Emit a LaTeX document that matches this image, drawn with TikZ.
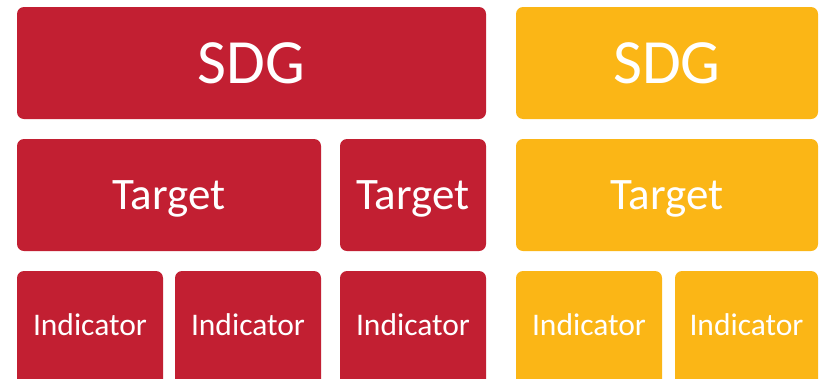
\documentclass[tikz,border=0pt]{standalone}
\usepackage{fontspec}
\setmainfont{Carlito}
\usetikzlibrary{positioning}
\definecolor{sdgRed}{HTML}{C21F32}
\definecolor{sdgGold}{HTML}{FBB616}

\begin{document}
\begin{tikzpicture}[x=1pt,y=1pt,node distance=20pt and 19pt]
      \tikzset{block/.style={rounded corners=7pt,inner sep=0pt,outer sep=0pt,text=white,anchor=north west,minimum height=112pt},
        redbox/.style={block,fill=sdgRed}, goldbox/.style={block,fill=sdgGold},
        goal/.style={font=\fontsize{63}{63}\selectfont}, tgt/.style={font=\fontsize{45}{45}\selectfont,text depth=0pt},
        ind/.style={font=\fontsize{31.5}{31.5}\selectfont,minimum width=146pt,minimum height=120pt,text depth=12pt}}
      \useasboundingbox (0,0) rectangle (821,-378);
      \node[redbox,goal,minimum width=469pt] (sdgA) at (17,-7) {SDG};
      \node[goldbox,goal,minimum width=302pt,right=30pt of sdgA.north east,anchor=north west] (sdgB) {SDG};
      \node[redbox,tgt,minimum width=304pt,below=of sdgA.south west,anchor=north west] (tgtA) {Target};
      \node[redbox,tgt,minimum width=146pt,right=of tgtA.north east,anchor=north west] (tgtB) {Target};
      \node[goldbox,tgt,minimum width=302pt,below=of sdgB.south west,anchor=north west] (tgtC) {Target};
      \node[redbox,ind,below=of tgtA.south west,anchor=north west] (indA) {Indicator};
      \node[redbox,ind,right=12pt of indA.north east,anchor=north west] (indB) {Indicator};
      \node[redbox,ind,below=of tgtB.south west,anchor=north west] (indC) {Indicator};
      \node[goldbox,ind,below=of tgtC.south west,anchor=north west] (indD) {Indicator};
      \node[goldbox,ind,minimum width=143pt,right=13pt of indD.north east,anchor=north west] (indE) {Indicator};
    \end{tikzpicture}
\end{document}
